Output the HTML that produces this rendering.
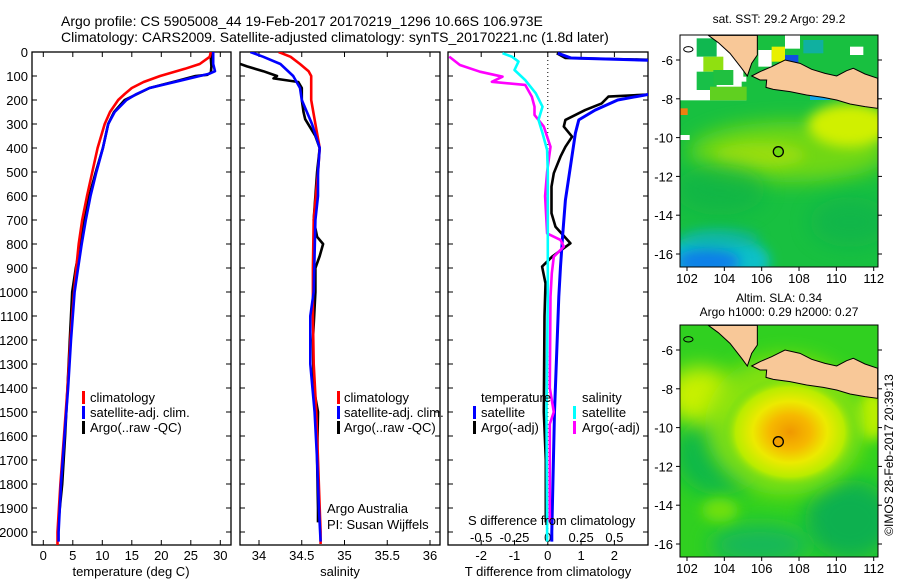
<!DOCTYPE html>
<html><head><meta charset="utf-8">
<style>
html,body{margin:0;padding:0;background:#fff;}
svg{display:block;font-family:"Liberation Sans",Arial,sans-serif;}
text{fill:#000;}
</style></head>
<body>
<svg id="fig" width="900" height="580" viewBox="0 0 900 580" xmlns="http://www.w3.org/2000/svg">
<defs>
  <clipPath id="c1"><rect x="32" y="52" width="199" height="493"/></clipPath>
  <clipPath id="c2"><rect x="240" y="52" width="200" height="493"/></clipPath>
  <clipPath id="c3"><rect x="448" y="52" width="200" height="493"/></clipPath>
  <clipPath id="cm1"><rect x="680" y="35" width="198" height="232"/></clipPath>
  <clipPath id="cm2"><rect x="680" y="325" width="198" height="232"/></clipPath>
  <filter id="blur6" x="-50%" y="-50%" width="200%" height="200%"><feGaussianBlur stdDeviation="6"/></filter>
  <filter id="blur10" x="-50%" y="-50%" width="200%" height="200%"><feGaussianBlur stdDeviation="10"/></filter>
  <radialGradient id="slaBlob">
    <stop offset="0" stop-color="#f09800"/>
    <stop offset="0.3" stop-color="#f6b800"/>
    <stop offset="0.55" stop-color="#ecea00"/>
    <stop offset="0.8" stop-color="#b8ec00"/>
    <stop offset="1" stop-color="#60d820" stop-opacity="0"/>
  </radialGradient>
</defs>

<text x="61" y="26" font-size="14">Argo profile: CS 5905008_44 19-Feb-2017 20170219_1296 10.66S 106.973E</text>
<text x="61" y="42" font-size="14">Climatology: CARS2009. Satellite-adjusted climatology: synTS_20170221.nc (1.8d later)</text>

<g id="axes"></g>
<g id="series"></g>

<g font-size="13">
  <rect x="82" y="391" width="3" height="13" fill="#f00"/><text x="90" y="402">climatology</text>
  <rect x="82" y="406" width="3" height="13" fill="#00f"/><text x="90" y="417">satellite-adj. clim.</text>
  <rect x="82" y="421" width="3" height="13" fill="#000"/><text x="90" y="432">Argo(..raw -QC)</text>
</g>
<g font-size="13">
  <rect x="337" y="391" width="3" height="13" fill="#f00"/><text x="344" y="402">climatology</text>
  <rect x="337" y="406" width="3" height="13" fill="#00f"/><text x="344" y="417">satellite-adj. clim.</text>
  <rect x="337" y="421" width="3" height="13" fill="#000"/><text x="344" y="432">Argo(..raw -QC)</text>
</g>
<g font-size="13">
  <text x="481" y="402">temperature</text>
  <rect x="473" y="406" width="3" height="13" fill="#00f"/><text x="481" y="417">satellite</text>
  <rect x="473" y="421" width="3" height="13" fill="#000"/><text x="481" y="432">Argo(-adj)</text>
  <text x="582" y="402">salinity</text>
  <rect x="573" y="406" width="3" height="13" fill="#0ff"/><text x="582" y="417">satellite</text>
  <rect x="573" y="421" width="3" height="13" fill="#f0f"/><text x="582" y="432">Argo(-adj)</text>
</g>
<text x="327" y="513" font-size="13">Argo Australia</text>
<text x="327" y="529" font-size="13">PI: Susan Wijffels</text>
<text x="468" y="525" font-size="13">S difference from climatology</text>
<text x="131" y="576" font-size="13" text-anchor="middle">temperature (deg C)</text>
<text x="340" y="576" font-size="13" text-anchor="middle">salinity</text>
<text x="548" y="576" font-size="13" text-anchor="middle">T difference from climatology</text>

<text x="779" y="23" font-size="12" text-anchor="middle">sat. SST: 29.2 Argo: 29.2</text>
<g clip-path="url(#cm1)">
  <rect x="680" y="35" width="198" height="232" fill="#18c040"/>
  <ellipse cx="790" cy="152" rx="100" ry="30" fill="#80dc10" filter="url(#blur10)" opacity="0.85"/>
  <ellipse cx="850" cy="125" rx="42" ry="22" fill="#d0f000" filter="url(#blur6)"/>
  <ellipse cx="760" cy="155" rx="45" ry="12" fill="#a8e010" filter="url(#blur6)" opacity="0.7"/>
  <ellipse cx="720" cy="190" rx="45" ry="25" fill="#10b048" filter="url(#blur10)" opacity="0.6"/>
  <ellipse cx="850" cy="222" rx="40" ry="25" fill="#10b050" filter="url(#blur10)" opacity="0.6"/>
  <ellipse cx="715" cy="262" rx="55" ry="28" fill="#10c0c8" filter="url(#blur6)"/>
  <ellipse cx="708" cy="262" rx="32" ry="14" fill="#1080e8" filter="url(#blur6)"/>
  <ellipse cx="720" cy="238" rx="40" ry="10" fill="#10b0a0" filter="url(#blur6)" opacity="0.6"/>
  <g transform="translate(650,0) scale(0.33333)">
    <rect x="89" y="106" width="200" height="195" fill="#fff"/>
    <rect x="140" y="115" width="60" height="55" fill="#10b850"/>
    <rect x="160" y="170" width="60" height="45" fill="#90e010"/>
    <rect x="140" y="215" width="60" height="55" fill="#18c048"/>
    <rect x="190" y="210" width="60" height="45" fill="#20c040"/>
    <rect x="275" y="245" width="45" height="30" fill="#18c040"/>
    <rect x="280" y="185" width="35" height="45" fill="#20c040"/>
    <rect x="180" y="260" width="110" height="41" fill="#60d020"/>
    <rect x="120" y="175" width="30" height="35" fill="#fff"/>
    <rect x="89" y="405" width="30" height="15" fill="#fff"/>
    <rect x="325" y="150" width="40" height="50" fill="#fff"/>
    <rect x="365" y="140" width="40" height="45" fill="#e8f000"/>
    <rect x="405" y="106" width="45" height="40" fill="#fff"/>
    <rect x="600" y="140" width="40" height="25" fill="#fff"/>
    <rect x="405" y="165" width="40" height="30" fill="#1050e0"/>
    <rect x="460" y="120" width="60" height="40" fill="#10b0a0"/>
    <rect x="480" y="280" width="60" height="20" fill="#10a8e8"/>
    <rect x="89" y="325" width="24" height="20" fill="#f08010"/>
    <path d="M175,106 L322,106 L322,165 L305,190 L292,228 L275,205 L240,160 L205,128 Z" fill="#f8c898" stroke="#000" stroke-width="3"/>
    <path d="M305,228 L330,215 L365,200 L405,180 L450,190 L485,208 L525,220 L560,228 L590,212 L610,205 L645,222 L683,235 L683,325 L645,320 L600,312 L560,300 L520,292 L470,285 L420,275 L370,268 L348,262 L350,240 L330,240 Z" fill="#f8c898" stroke="#000" stroke-width="3"/>
    <ellipse cx="115" cy="148" rx="14" ry="8" fill="none" stroke="#000" stroke-width="3"/>
    <circle cx="385" cy="455" r="15" fill="#70d810" stroke="#000" stroke-width="4"/>
  </g>
</g>
<rect x="680" y="35" width="198" height="232" fill="none" stroke="#000" stroke-width="1"/>

<text x="779" y="302" font-size="12" text-anchor="middle">Altim. SLA: 0.34</text>
<text x="779" y="316" font-size="12" text-anchor="middle">Argo h1000: 0.29 h2000: 0.27</text>
<g clip-path="url(#cm2)">
  <rect x="680" y="325" width="198" height="232" fill="#30d020"/>
  <ellipse cx="720" cy="455" rx="45" ry="40" fill="#10b848" filter="url(#blur10)"/>
  <ellipse cx="850" cy="520" rx="45" ry="40" fill="#10b050" filter="url(#blur10)"/>
  <ellipse cx="760" cy="545" rx="50" ry="20" fill="#18b858" filter="url(#blur10)"/>
  <ellipse cx="720" cy="510" rx="18" ry="12" fill="#70e010" filter="url(#blur6)"/>
  <ellipse cx="700" cy="395" rx="35" ry="28" fill="#c8f000" filter="url(#blur10)"/>
  <ellipse cx="872" cy="415" rx="15" ry="25" fill="#c0f000" filter="url(#blur6)"/>
  <ellipse cx="785" cy="425" rx="80" ry="70" fill="#90e410" filter="url(#blur10)" opacity="0.85"/>
  <ellipse cx="790" cy="432" rx="68" ry="56" fill="url(#slaBlob)"/>
  <g transform="translate(650,290) scale(0.33333)">
    <path d="M175,106 L322,106 L322,165 L305,190 L292,228 L275,205 L240,160 L205,128 Z" fill="#f8c898" stroke="#000" stroke-width="3"/>
    <path d="M305,228 L330,215 L365,200 L405,180 L450,190 L485,208 L525,220 L560,228 L590,212 L610,205 L645,222 L683,235 L683,325 L645,320 L600,312 L560,300 L520,292 L470,285 L420,275 L370,268 L348,262 L350,240 L330,240 Z" fill="#f8c898" stroke="#000" stroke-width="3"/>
    <ellipse cx="115" cy="148" rx="14" ry="8" fill="none" stroke="#000" stroke-width="3"/>
    <circle cx="385" cy="455" r="15" fill="#f0a000" stroke="#000" stroke-width="4"/>
  </g>
</g>
<rect x="680" y="325" width="198" height="232" fill="none" stroke="#000" stroke-width="1"/>
<text transform="translate(893,455) rotate(-90)" font-size="12" text-anchor="middle">©IMOS 28-Feb-2017 20:39:13</text>
<g id="mapaxes"></g>

<script>
const climTDepth = [0,20,50,70,100,125,150,175,200,250,300,400,500,600,700,800,900,1000,1200,1400,1600,1800,2000,2055];
const climT = [28.4,28.2,26.5,24,19.8,17,15,13.8,12.7,11.3,10.4,9.2,8.3,7.4,6.6,6.0,5.6,5.2,4.6,4.1,3.5,2.9,2.4,2.4];
const satTDepth = [0,50,80,90,100,120,150,175,200,250,300,400,500,600,700,800,900,1000,1200,1400,1600,1800,2000,2040];
const satT = [28.8,28.8,29.1,28.2,26.5,23.1,18,15.8,14.1,12.1,11,10.1,9,8,7.2,6.5,5.9,5.3,4.7,4.2,3.6,3.0,2.6,2.6];
const argoTDepth = [0,30,60,85,95,100,120,150,200,250,300,400,500,600,700,800,900,1000,1200,1400,1600,1800,1950];
const argoT = [28.5,28.4,28.5,28.4,27.8,25.8,22.8,18,13.8,12,11,10.1,8.9,7.8,7,6.3,5.5,4.9,4.5,4.1,3.7,3.2,2.6];

const climSDepth = [0,20,50,80,100,200,300,400,500,700,900,1100,1300,1500,1700,1900,2000,2050];
const climS = [34.23,34.37,34.48,34.58,34.61,34.61,34.66,34.71,34.69,34.64,34.63,34.63,34.64,34.67,34.69,34.71,34.72,34.72];
const satSDepth = [0,20,50,100,150,200,250,300,400,500,600,700,1000,1100,1300,1500,1700,1900,2040];
const satS = [33.9,34.05,34.25,34.4,34.48,34.5,34.56,34.62,34.71,34.69,34.69,34.66,34.64,34.6,34.6,34.65,34.68,34.7,34.72];
const argoSDepth = [50,60,80,100,110,125,150,200,250,280,350,400,500,700,770,800,850,900,1000,1200,1400,1500,1700,1900,1960];
const argoS = [33.78,33.86,34.05,34.21,34.17,34.46,34.5,34.5,34.52,34.54,34.66,34.71,34.68,34.64,34.68,34.75,34.71,34.66,34.66,34.63,34.64,34.69,34.68,34.69,34.69];

const satTdDepth = [5,25,35,172,200,242,283,338,478,617,756,894,1020,1500,2000,2040];
const satTd = [0.3,0.7,3.2,3.2,2.1,1.42,0.93,0.83,0.68,0.53,0.45,0.38,0.33,0.2,0.12,0.12];
const argoTdDepth = [5,25,33,176,186,214,242,262,283,311,353,395,436,505,561,672,728,797,853,894,964,1100,1500,1700,1960];
const argoTd = [0.27,0.53,3.2,3.2,1.82,1.62,1.12,0.83,0.53,0.48,0.73,0.53,0.38,0.18,0.11,0.11,0.23,0.68,0.13,-0.17,-0.07,-0.1,-0.12,-0.06,-0.06];
const satSdDepth = [5,19,40,75,117,172,228,283,338,408,500,1000,1500,2000,2040];
const satSd = [-0.34,-0.27,-0.22,-0.25,-0.17,-0.09,-0.04,-0.07,-0.04,-0.005,0,0,-0.01,-0.005,-0.005];
const argoSdDepth = [19,54,82,103,124,137,186,228,262,311,395,500,600,756,783,811,853,922,1020,1400,1500,1550,1960];
const argoSd = [-0.74,-0.66,-0.51,-0.34,-0.42,-0.17,-0.12,-0.10,-0.10,-0.03,0.02,-0.005,-0.02,-0.005,0.095,0.12,0.045,0.03,0.02,0.015,0.045,0.015,0.015];

const depthTicks = [0,100,200,300,400,500,600,700,800,900,1000,1100,1200,1300,1400,1500,1600,1700,1800,1900,2000];
const tempTicks = [0,5,10,15,20,25,30];
const salTicks = [34,34.5,35,35.5,36];
const tDiffTicks = [-2,-1,0,1,2];
const sDiffTicks = [-0.5,-0.25,0,0.25,0.5];
const lonTicks = [102,104,106,108,110,112];
const latTicks = [-6,-8,-10,-12,-14,-16];

const NS='http://www.w3.org/2000/svg';
const yD = d => 52 + 0.24*d;
const xT = t => 43.3 + 5.9*t;
const xS = s => 259 + 85.5*(s-34);
const xTd = v => 547.8 + 33.3*v;
const xSd = v => 547.8 + 133.2*v;
const xLon = l => 687 + 18.67*(l-102);
const yLat1 = l => 60 - 19.4*(l+6);
const yLat2 = l => 350 - 19.4*(l+6);

function mk(tag, attrs, parent){const e=document.createElementNS(NS,tag);for(const k in attrs)e.setAttribute(k,attrs[k]);parent.appendChild(e);return e;}
const axes=document.getElementById('axes');
const ser=document.getElementById('series');

function frame(x,y,w,h,name){
  const r=mk('rect',{x:x,y:y,width:w,height:h,fill:'none',stroke:'#000','stroke-width':1.3},axes);
  
  
}
frame(32,52,199,493,'temperature-panel-frame');
frame(240,52,200,493,'salinity-panel-frame');
frame(448,52,200,493,'difference-panel-frame');

[[32,231],[240,440],[448,648]].forEach(p=>{
  depthTicks.forEach(d=>{
    const y=yD(d);
    const a=mk('line',{x1:p[0],x2:p[0]+5,y1:y,y2:y,stroke:'#000'},axes);
    
    
    const b=mk('line',{x1:p[1]-5,x2:p[1],y1:y,y2:y,stroke:'#000'},axes);
    
    
  });
});
depthTicks.forEach(d=>{
  const t=mk('text',{x:28,y:yD(d)+5,'font-size':13,'text-anchor':'end'},axes);
  t.textContent=d;
  
  
});
function xticks(vals,fx,label,y0,y1,labY){
  vals.forEach(v=>{
    const x=fx(v);
    const a=mk('line',{x1:x,x2:x,y1:y0,y2:y0+5,stroke:'#000'},axes);
    
    
    const b=mk('line',{x1:x,x2:x,y1:y1-5,y2:y1,stroke:'#000'},axes);
    
    
    if(label){
      const t=mk('text',{x:x,y:labY,'font-size':13,'text-anchor':'middle'},axes);
      t.textContent=v;
      
      
    }
  });
}
xticks(tempTicks,xT,true,52,545,560);
xticks(salTicks,xS,true,52,545,560);
xticks(tDiffTicks,xTd,true,52,545,560);
sDiffTicks.forEach(v=>{
  const t=mk('text',{x:xSd(v),y:542,'font-size':13,'text-anchor':'middle'},axes);
  t.textContent=v;
  
  
});
const zl=mk('line',{x1:xTd(0),x2:xTd(0),y1:52,y2:545,stroke:'#000','stroke-dasharray':'1,3'},axes);



function line(depths,vals,fx,color,clip,name,w){
  const pts=depths.map((d,i)=>fx(vals[i]).toFixed(1)+','+yD(d).toFixed(1)).join(' ');
  const p=mk('polyline',{points:pts,fill:'none',stroke:color,'stroke-width':w||2.6,'stroke-linejoin':'round','clip-path':'url(#'+clip+')'},ser);
  
  
}
line(argoTDepth,argoT,xT,'#000','c1','argo-temperature-line');
line(climTDepth,climT,xT,'#f00','c1','climatology-temperature-line');
line(satTDepth,satT,xT,'#00f','c1','satellite-temperature-line');
line(argoSDepth,argoS,xS,'#000','c2','argo-salinity-line');
line(climSDepth,climS,xS,'#f00','c2','climatology-salinity-line');
line(satSDepth,satS,xS,'#00f','c2','satellite-salinity-line');
line(argoTdDepth,argoTd,xTd,'#000','c3','argo-temperature-diff-line');
line(satTdDepth,satTd,xTd,'#00f','c3','satellite-temperature-diff-line',3);
line(argoSdDepth,argoSd,xSd,'#f0f','c3','argo-salinity-diff-line');
line(satSdDepth,satSd,xSd,'#0ff','c3','satellite-salinity-diff-line');

const ma=document.getElementById('mapaxes');
[[35,267,yLat1,279],[325,557,yLat2,569]].forEach(m=>{
  lonTicks.forEach(l=>{
    const x=xLon(l);
    const a=mk('line',{x1:x,x2:x,y1:m[1],y2:m[1]+4,stroke:'#000'},ma);
    
    
    const t=mk('text',{x:x,y:m[3]+4,'font-size':13,'text-anchor':'middle'},ma);
    t.textContent=l;
    
    
  });
  latTicks.forEach(l=>{
    const y=m[2](l);
    const a=mk('line',{x1:676,x2:680,y1:y,y2:y,stroke:'#000'},ma);
    
    
    const b=mk('line',{x1:878,x2:882,y1:y,y2:y,stroke:'#000'},ma);
    
    
    const t=mk('text',{x:673,y:y+5,'font-size':13,'text-anchor':'end'},ma);
    t.textContent=l;
    
    
  });
});
</script>
</svg>
</body></html>
